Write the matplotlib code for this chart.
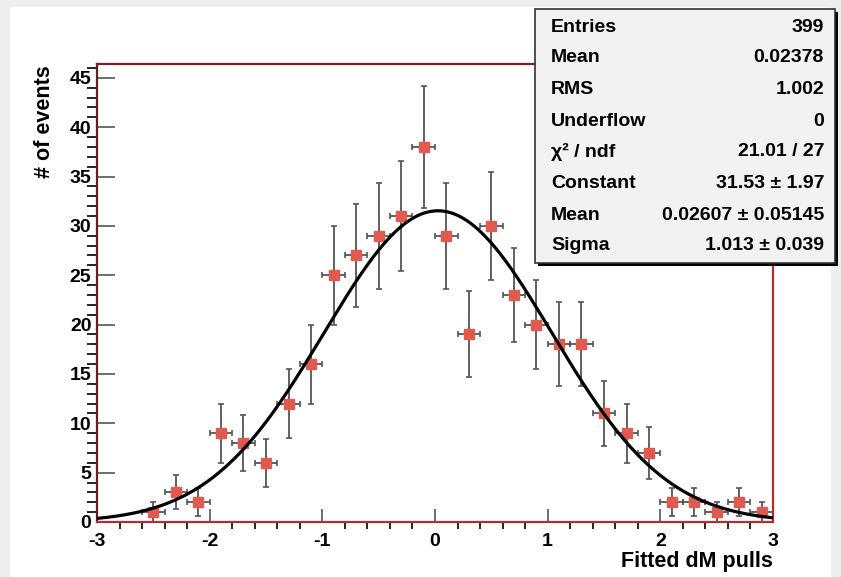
import numpy as np
import matplotlib
matplotlib.use('Agg')
from matplotlib import pyplot as plt
from matplotlib.patches import Rectangle

# histogram contents (bin width 0.2 from -3 to 3)
bin_centers = np.round(np.arange(-2.9, 3.0, 0.2), 2)
counts = [0, 0, 1, 3, 2, 9, 8, 6, 12, 16, 25, 27, 29, 31, 38,
          29, 19, 30, 23, 20, 18, 18, 11, 9, 7, 2, 2, 1, 2, 1]

# gaussian fit parameters
fit_const = 31.53
fit_mean = 0.02607
fit_sigma = 1.013

stat_labels = ['Entries', 'Mean', 'RMS', 'Underflow', 'χ² / ndf',
               'Constant', 'Mean', 'Sigma']
stat_values = ['399', '0.02378', '1.002', '0', '21.01 / 27',
               '31.53 ± 1.97', '0.02607 ± 0.05145', '1.013 ± 0.039']

plt.rcParams['font.family'] = ['Liberation Sans', 'DejaVu Sans']
plt.rcParams['font.weight'] = 'bold'
plt.rcParams['axes.unicode_minus'] = False

W, H = 841, 577
fig = plt.figure(figsize=(W / 100, H / 100), dpi=100)
fig.patch.set_facecolor('#eeeeee')
# white canvas
fig.patches.append(Rectangle((10 / W, 0), (831 - 10) / W, 1 - 7 / H,
                             transform=fig.transFigure, facecolor='white',
                             edgecolor='none', zorder=-5))

ax = fig.add_axes([97 / W, 1 - 522 / H, (773 - 97) / W, (522 - 64) / H])
ax.set_facecolor('white')

x = np.array(bin_centers)
y = np.array(counts, dtype=float)
m = y > 0
ax.errorbar(x[m], y[m], yerr=np.sqrt(y[m]), xerr=0.1, fmt='none',
            ecolor='#555555', elinewidth=1.3, capsize=2, capthick=1.2, zorder=2)
ax.plot(x[m], y[m], 's', color='#e05a50', markersize=6.5, zorder=3)

xf = np.linspace(-3, 3, 400)
ax.plot(xf, fit_const * np.exp(-0.5 * ((xf - fit_mean) / fit_sigma) ** 2),
        color='black', lw=2.3, zorder=4)

ax.set_xlim(-3, 3)
ax.set_ylim(0, 46.4)
ax.set_xticks(np.arange(-3, 4, 1))
ax.set_xticks(np.arange(-3, 3.01, 0.2), minor=True)
ax.set_yticks(np.arange(0, 46, 5))
ax.set_yticks(np.arange(0, 47, 1), minor=True)
ax.tick_params(axis='both', direction='in', colors='#555555', labelcolor='black',
               labelsize=14, top=False, right=False)
ax.tick_params(axis='y', which='major', length=13, width=1.2, pad=4)
ax.tick_params(axis='y', which='minor', length=7, width=1.2)
ax.tick_params(axis='x', which='major', length=9.5, width=1.2, pad=8)
ax.tick_params(axis='x', which='minor', length=5, width=1.2)
for lab in ax.get_xticklabels() + ax.get_yticklabels():
    lab.set_fontweight('bold')
for s in ax.spines.values():
    s.set_color('#b03030')
    s.set_linewidth(1.6)
ax.spines['left'].set_color('#602020')
ax.spines['top'].set_color('#802020')

fig.text(45 / W, 1 - 65 / H, '# of events', rotation=90, ha='center', va='top',
         fontsize=15.5, fontweight='bold')
fig.text(773 / W, 1 - 561 / H, 'Fitted dM pulls', ha='right', va='center',
         fontsize=15.5, fontweight='bold')

# stats box with shadow
bx0, by0, bx1, by1 = 535, 9, 835, 263
fig.patches.append(Rectangle(((bx0 + 3) / W, 1 - (by1 + 3) / H), (bx1 - bx0) / W,
                             (by1 - by0) / H, transform=fig.transFigure,
                             facecolor='black', edgecolor='none', zorder=5))
fig.patches.append(Rectangle((bx0 / W, 1 - by1 / H), (bx1 - bx0) / W,
                             (by1 - by0) / H, transform=fig.transFigure,
                             facecolor='#f2f2f2', edgecolor='#333333', lw=1.2,
                             zorder=6))
row_y = [27, 58, 89, 121, 152, 183, 216, 246]
for yy, lab, val in zip(row_y, stat_labels, stat_values):
    fig.text(551 / W, 1 - yy / H, lab, ha='left', va='center', fontsize=14,
             fontweight='bold', zorder=7)
    fig.text(824 / W, 1 - yy / H, val, ha='right', va='center', fontsize=14,
             fontweight='bold', zorder=7)

fig.savefig('out.png', dpi=100, facecolor=fig.get_facecolor())
